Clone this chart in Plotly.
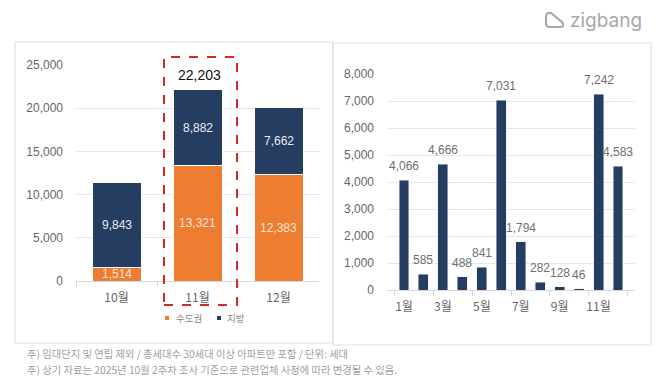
import plotly.graph_objects as go

W, H = 670, 388

# ---- data ----
left_cats = ["10월", "11월", "12월"]
capital = [1514, 13321, 12383]      # 수도권
regional = [9843, 8882, 7662]       # 지방
series_names = ["수도권", "지방"]
highlight_total_label = "22,203"

right_cats = ["1월", "2월", "3월", "4월", "5월", "6월", "7월", "8월", "9월", "10월", "11월", "12월"]
right_vals = [4066, 585, 4666, 488, 841, 7031, 1794, 282, 128, 46, 7242, 4583]

left_yticks = [0, 5000, 10000, 15000, 20000, 25000]
right_yticks = [0, 1000, 2000, 3000, 4000, 5000, 6000, 7000, 8000]

footnotes = [
    "주) 임대단지 및 연립 제외 / 총세대수 30세대 이상 아파트만 포함 / 단위: 세대",
    "주) 상기 자료는 2025년 10월 2주차 조사 기준으로 관련업체 사정에 따라 변경될 수 있음.",
]

ORANGE = "#ED7D31"
NAVY = "#253D60"
GREY_TXT = "#666666"
GRID = "#E6E6E6"
FONT = "Noto Sans CJK KR, Liberation Sans, sans-serif"
NUMFONT = "Liberation Sans, Arial, sans-serif"


def px_x(v):
    return v / W


def px_y(v):
    return 1 - v / H


fig = go.Figure()

fig.add_trace(go.Bar(x=left_cats, y=capital, name=series_names[0], marker=dict(color=ORANGE, line=dict(color="white", width=1)),
                     xaxis="x", yaxis="y", showlegend=False, hoverinfo="x+y"))
fig.add_trace(go.Bar(x=left_cats, y=regional, name=series_names[1], marker=dict(color=NAVY, line=dict(color="white", width=1)),
                     xaxis="x", yaxis="y", showlegend=False, hoverinfo="x+y"))
fig.add_trace(go.Bar(x=right_cats, y=right_vals, marker=dict(color=NAVY), xaxis="x2", yaxis="y2",
                     showlegend=False, hoverinfo="x+y", width=0.51))

annotations = []
# inside labels for stacked bars
for c, a, b in zip(left_cats, capital, regional):
    annotations.append(dict(x=c, y=a / 2, xref="x", yref="y", text=f"{a:,}", showarrow=False,
                            yanchor="middle", font=dict(family=NUMFONT, size=12, color="#FBE3D4")))
    annotations.append(dict(x=c, y=a + b / 2, xref="x", yref="y", text=f"{b:,}", showarrow=False,
                            yanchor="middle", font=dict(family=NUMFONT, size=12, color="#E8ECF2")))
# total label for highlighted month
hi = 1
annotations.append(dict(x=left_cats[hi], y=capital[hi] + regional[hi], xref="x", yref="y", text=highlight_total_label,
                        showarrow=False, yanchor="bottom", yshift=4, xshift=2,
                        font=dict(family=NUMFONT, size=14, color="#111111")))
# right labels
for c, v in zip(right_cats, right_vals):
    annotations.append(dict(x=c, y=v, xref="x2", yref="y2", text=f"{v:,}", showarrow=False,
                            yanchor="bottom", yshift=5, font=dict(family=NUMFONT, size=12, color="#6F6F6F")))

# legend (manual): small squares + labels
legend_items = [(series_names[0], ORANGE, 165, 174), (series_names[1], NAVY, 217, 225)]
shapes = []
for name, col, sx, tx in legend_items:
    shapes.append(dict(type="rect", xref="paper", yref="paper", x0=px_x(sx), x1=px_x(sx + 4),
                       y0=px_y(320), y1=px_y(316), fillcolor=col, line=dict(width=0)))
    annotations.append(dict(x=px_x(tx), y=px_y(318), xref="paper", yref="paper", xanchor="left",
                            yanchor="middle", showarrow=False, text=name,
                            font=dict(family=FONT, size=9.5, color="#8A8A8A")))

# footnotes
for i, t in enumerate(footnotes):
    annotations.append(dict(x=px_x(25), y=px_y(353 + 16 * i), xref="paper", yref="paper", xanchor="left",
                            yanchor="middle", showarrow=False, text=t,
                            font=dict(family=FONT, size=10.3, color="#A0A0A0")))

# logo
annotations.append(dict(x=px_x(568), y=px_y(20), xref="paper", yref="paper", xanchor="left", yanchor="middle",
                        showarrow=False, text="zigbang",
                        font=dict(family="Inter, Lato, sans-serif", size=19, color="#A8A8A8")))

shapes += [
    dict(type="rect", xref="paper", yref="paper", x0=px_x(15), x1=px_x(333), y0=px_y(343), y1=px_y(42),
         line=dict(color="#E2E2E2", width=1.2)),
    dict(type="rect", xref="paper", yref="paper", x0=px_x(333), x1=px_x(651), y0=px_y(345), y1=px_y(43),
         line=dict(color="#E2E2E2", width=1.2)),
    dict(type="rect", xref="paper", yref="paper", x0=px_x(164), x1=px_x(237), y0=px_y(305), y1=px_y(57),
         line=dict(color="#D8262B", width=2, dash="dash")),
    # logo icon
    dict(type="path", xref="paper", yref="paper",
         path=f"M {px_x(546)} {px_y(17)} Q {px_x(546)} {px_y(12)} {px_x(551)} {px_y(13)} "
              f"L {px_x(562)} {px_y(22)} Q {px_x(565)} {px_y(27)} {px_x(560)} {px_y(27)} "
              f"L {px_x(550)} {px_y(27)} Q {px_x(546)} {px_y(27)} {px_x(546)} {px_y(23)} Z",
         line=dict(color="#A8A8A8", width=2.2)),
]

fig.update_layout(
    width=W, height=H, margin=dict(l=0, r=0, t=0, b=0, autoexpand=False),
    paper_bgcolor="white", plot_bgcolor="white",
    barmode="stack", bargap=0.395,
    font=dict(family=FONT, color=GREY_TXT, size=12),
    annotations=annotations, shapes=shapes, showlegend=False,
    xaxis=dict(domain=[px_x(76), px_x(319)], anchor="y", type="category", showgrid=False, automargin=False,
               showline=True, linecolor="#D9D9D9", ticks="outside", tickson="boundaries", ticklen=5,
               tickcolor="#D9D9D9", tickangle=0, ticklabelstandoff=6,
               tickfont=dict(family=FONT, size=12, color=GREY_TXT), fixedrange=True),
    yaxis=dict(domain=[px_y(281), px_y(65)], anchor="x", range=[0, 25000], tickvals=left_yticks,
               tickformat=",", showgrid=True, gridcolor=GRID, zeroline=False, ticks="", automargin=False,
               ticklabelstandoff=12, tickfont=dict(family=NUMFONT, size=12, color=GREY_TXT)),
    xaxis2=dict(domain=[px_x(387), px_x(635)], anchor="y2", type="category", showgrid=False, automargin=False,
                showline=True, linecolor="#D9D9D9", ticks="outside", tickson="boundaries", ticklen=5,
                tickcolor="#D9D9D9", tickmode="linear", tick0=0, dtick=2, tickangle=0, ticklabelstandoff=6,
                tickfont=dict(family=FONT, size=12, color=GREY_TXT)),
    yaxis2=dict(domain=[px_y(290), px_y(74)], anchor="x2", range=[0, 8000], tickvals=right_yticks,
                tickformat=",", showgrid=True, gridcolor=GRID, zeroline=False, ticks="", automargin=False,
                ticklabelstandoff=12, tickfont=dict(family=NUMFONT, size=12, color=GREY_TXT)),
)

fig.write_html("out.html", config={"displayModeBar": False},
               post_script="document.body.style.margin='0';document.body.style.overflow='hidden';")
